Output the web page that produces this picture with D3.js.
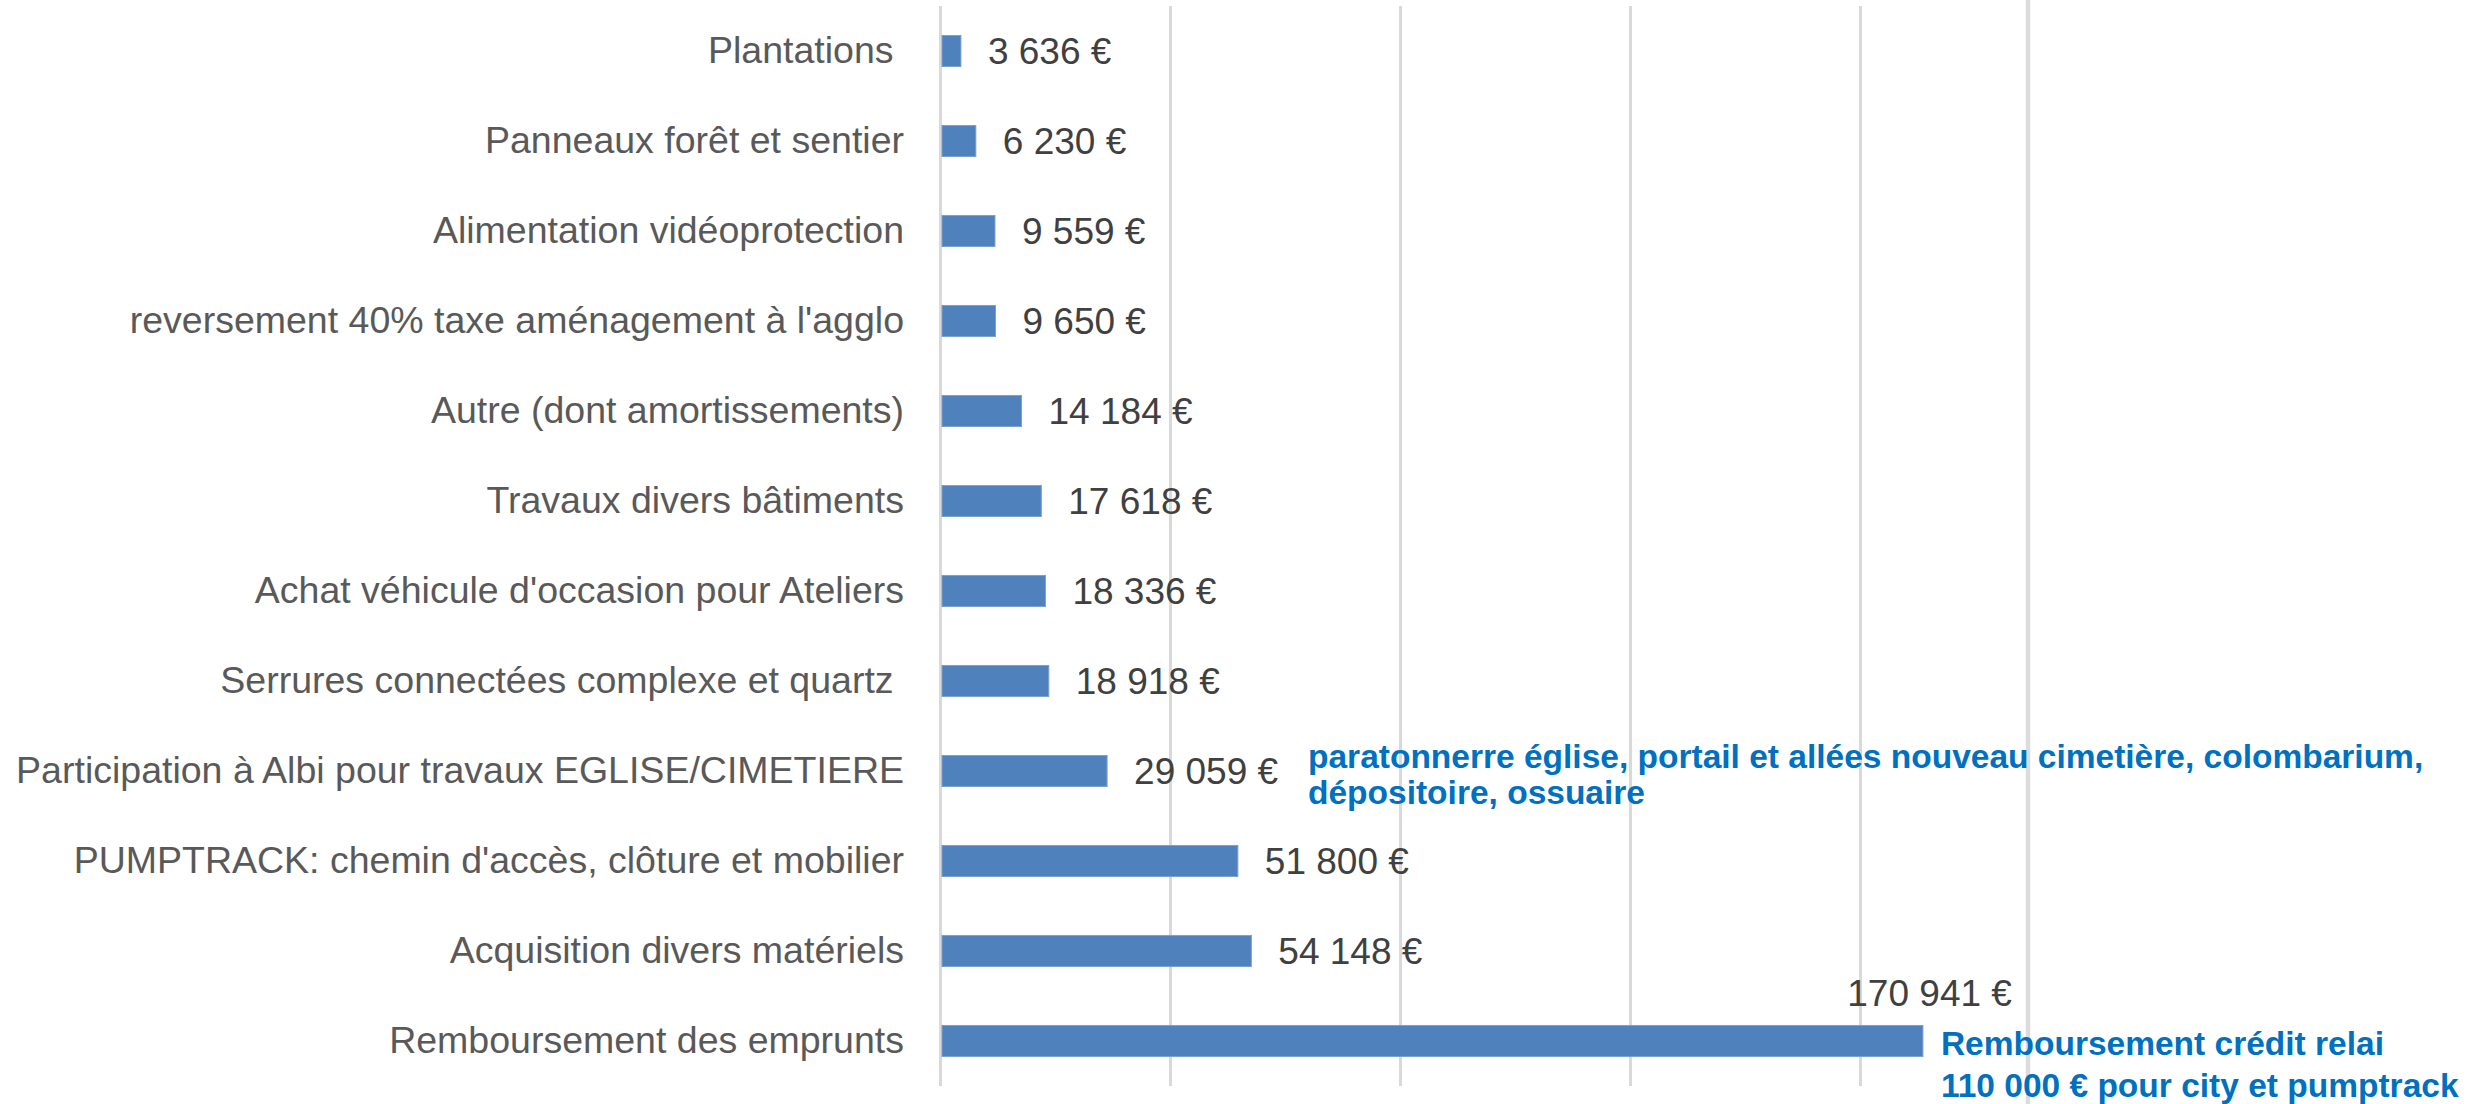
<!DOCTYPE html>
<html>
<head>
<meta charset="utf-8">
<script src="https://cdn.jsdelivr.net/npm/d3@7"></script>
<style>
  html, body { margin: 0; padding: 0; background: #fff; }
  svg text { white-space: pre; }
</style>
</head>
<body>
<svg id="chart"></svg>
<script>
// categories, top to bottom
const categories = [
  "Plantations ",
  "Panneaux forêt et sentier",
  "Alimentation vidéoprotection",
  "reversement 40% taxe aménagement à l'agglo",
  "Autre (dont amortissements)",
  "Travaux divers bâtiments",
  "Achat véhicule d'occasion pour Ateliers",
  "Serrures connectées complexe et quartz ",
  "Participation à Albi pour travaux EGLISE/CIMETIERE",
  "PUMPTRACK: chemin d'accès, clôture et mobilier",
  "Acquisition divers matériels",
  "Remboursement des emprunts"
];
const amounts = [3636, 6230, 9559, 9650, 14184, 17618, 18336, 18918, 29059, 51800, 54148, 170941];
const gridTicks = [0, 40000, 80000, 120000, 160000];

const noteEglise = ["paratonnerre église, portail et allées nouveau cimetière, colombarium,", "dépositoire, ossuaire"];
const noteCredit = ["Remboursement crédit relai", "110 000 € pour city et pumptrack"];

const W = 2479, H = 1104;
const svg = d3.select("#chart").attr("width", W).attr("height", H);

const x = d3.scaleLinear().domain([0, 160000]).range([940, 1860]);
const y = d3.scaleBand().domain(categories).range([6, 1086])
  .paddingInner(0.655).paddingOuter(0.3275);

const fr = d3.formatLocale({decimal: ",", thousands: " ", grouping: [3], currency: ["", " €"]});
const fmt = fr.format("$,.0f");

// frame line on the right
svg.append("line")
  .attr("x1", 2028).attr("x2", 2028).attr("y1", 0).attr("y2", H)
  .attr("stroke", "#dcdcdc").attr("stroke-width", 4.5);

// vertical gridlines
const grid = svg.append("g")
  .attr("transform", "translate(0,1086)")
  .call(d3.axisBottom(x).tickValues(gridTicks).tickSize(-1080).tickFormat(""));
grid.select(".domain").remove();
grid.selectAll(".tick line").attr("stroke", "#d9d9d9").attr("stroke-width", 3);

// category axis
const yAxis = svg.append("g")
  .attr("transform", "translate(940,0)")
  .call(d3.axisLeft(y).tickSize(0).tickPadding(36));
yAxis.select(".domain").remove();
yAxis.selectAll("text")
  .attr("font-family", "'Liberation Sans', Arial, sans-serif")
  .attr("font-size", 37.5)
  .attr("fill", "#595959");

const rows = categories.map((c, i) => ({cat: c, val: amounts[i]}));

// bars
svg.append("g").selectAll("rect")
  .data(rows)
  .join("rect")
  .attr("x", x(0) + 2)
  .attr("y", d => y(d.cat))
  .attr("width", d => x(d.val) - x(0) - 2)
  .attr("height", y.bandwidth())
  .attr("fill", "#4f81bd")
  .attr("stroke", "#7a9fd0")
  .attr("stroke-width", 1);

// value labels (last one was moved above its bar)
const last = rows.length - 1;
svg.append("g").selectAll("text")
  .data(rows)
  .join("text")
  .attr("x", (d, i) => i === last ? x(d.val) + 89 : x(d.val) + 27)
  .attr("y", (d, i) => i === last ? y(d.cat) - 19 : y(d.cat) + y.bandwidth() / 2)
  .attr("dy", (d, i) => i === last ? 0 : "0.36em")
  .attr("text-anchor", (d, i) => i === last ? "end" : "start")
  .attr("font-family", "'Liberation Sans', Arial, sans-serif")
  .attr("font-size", 37)
  .attr("fill", "#404040")
  .text(d => fmt(d.val));

// blue notes
function note(lines, x0, y0, gap) {
  svg.append("text")
    .attr("font-family", "'Liberation Sans', Arial, sans-serif")
    .attr("font-weight", "bold")
    .attr("font-size", 33.5)
    .attr("fill", "#0070c0")
    .selectAll("tspan")
    .data(lines)
    .join("tspan")
    .attr("x", x0)
    .attr("y", (d, i) => y0 + i * gap)
    .text(d => d);
}
note(noteEglise, 1308, 768, 36);
note(noteCredit, x(amounts[last]) + 18, 1055, 42);
</script>
</body>
</html>
